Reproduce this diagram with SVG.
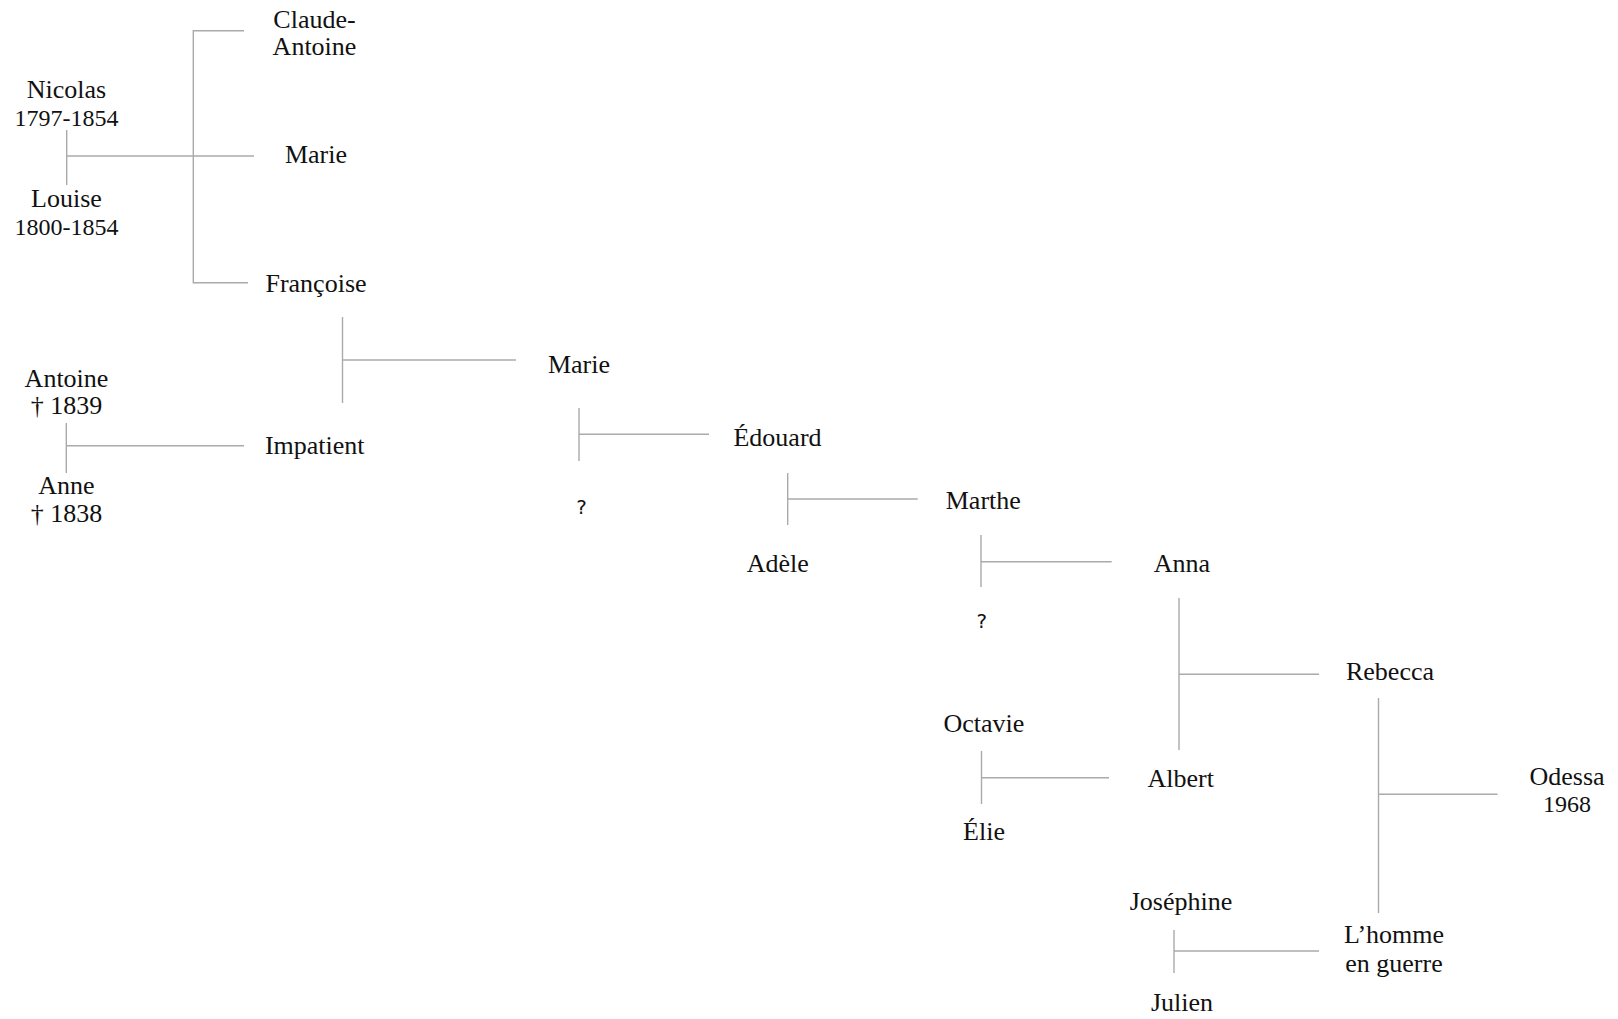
<svg xmlns="http://www.w3.org/2000/svg" width="1618" height="1019" viewBox="0 0 1618 1019">
<style>
  text { font-family: "Liberation Serif", "DejaVu Serif", serif; font-size: 26px; fill: #111; text-anchor: middle; }
  text.d { font-size: 24px; }
  text.q { font-family: "DejaVu Sans", "Noto Sans", sans-serif; font-size: 20px; }
  .links path { fill: none; stroke: #aaaaaa; stroke-width: 1.4; }
</style>
<rect width="1618" height="1019" fill="#ffffff"/>
<g class="links" id="connectors">
  <path d="M66.7,130 V185 M66.7,156 H254"/>
  <path d="M244,30.7 H193.3 V282.7 H248"/>
  <path d="M342.5,317 V403 M342.5,360 H516"/>
  <path d="M66.3,423 V473 M66.3,445.7 H244"/>
  <path d="M579,408 V461 M579,434.3 H709"/>
  <path d="M787.7,473 V525 M787.7,499 H917.7"/>
  <path d="M981,535 V587 M981,561.7 H1111.7"/>
  <path d="M1179,598 V750 M1179,674.3 H1319"/>
  <path d="M981.5,751 V804 M981.5,777.7 H1109"/>
  <path d="M1378.5,698 V913 M1378.5,794.3 H1497.5"/>
  <path d="M1174,930 V973 M1174,951 H1319"/>
</g>
<g id="nicolas"><text x="66.5" y="98">Nicolas</text><text class="d" x="66.5" y="126">1797-1854</text></g>
<g id="louise"><text x="66.5" y="207">Louise</text><text class="d" x="66.5" y="235">1800-1854</text></g>
<g id="claude-antoine"><text x="314.5" y="28">Claude-</text><text x="314.5" y="55">Antoine</text></g>
<g id="marie1"><text x="316" y="163">Marie</text></g>
<g id="francoise"><text x="316" y="292">Françoise</text></g>
<g id="antoine"><text x="66.5" y="387">Antoine</text><text x="66.5" y="414">† 1839</text></g>
<g id="anne"><text x="66.5" y="494">Anne</text><text x="66.5" y="521.7">† 1838</text></g>
<g id="impatient"><text x="314.7" y="453.5">Impatient</text></g>
<g id="marie2"><text x="579" y="373">Marie</text></g>
<g id="unknown1"><text class="q" x="581.5" y="514">?</text></g>
<g id="edouard"><text x="777.5" y="446">Édouard</text></g>
<g id="adele"><text x="777.7" y="572.3">Adèle</text></g>
<g id="marthe"><text x="983.3" y="509">Marthe</text></g>
<g id="unknown2"><text class="q" x="981.7" y="628.3">?</text></g>
<g id="anna"><text x="1182" y="572.3">Anna</text></g>
<g id="rebecca"><text x="1390" y="680">Rebecca</text></g>
<g id="octavie"><text x="983.8" y="731.7">Octavie</text></g>
<g id="albert"><text x="1180.7" y="786.7">Albert</text></g>
<g id="elie"><text x="984" y="840">Élie</text></g>
<g id="odessa"><text x="1567" y="785">Odessa</text><text class="d" x="1567" y="812">1968</text></g>
<g id="josephine"><text x="1181" y="910">Joséphine</text></g>
<g id="lhomme"><text x="1394" y="943.3">L’homme</text><text x="1394" y="971.7">en guerre</text></g>
<g id="julien"><text x="1182" y="1010.7">Julien</text></g>
</svg>
